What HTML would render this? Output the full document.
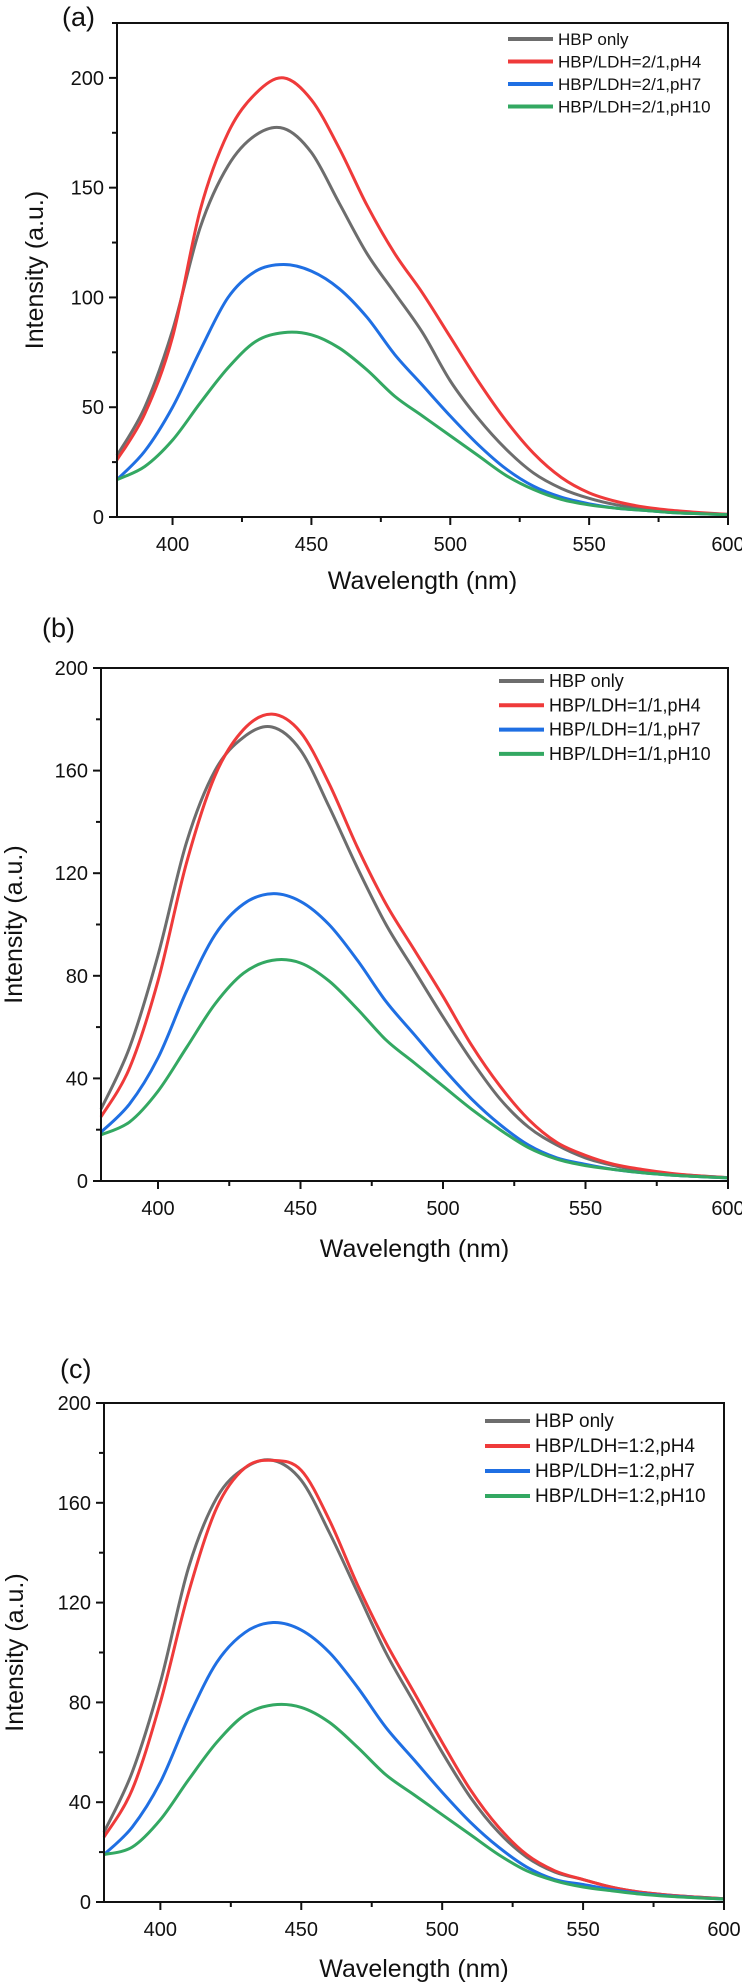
<!DOCTYPE html>
<html><head><meta charset="utf-8"><style>
html,body{margin:0;padding:0;background:#fff}
svg{display:block}
text{font-family:"Liberation Sans",Arial,sans-serif;fill:#111}
</style></head><body>
<svg id="chart" width="742" height="1982" viewBox="0 0 742 1982" xmlns="http://www.w3.org/2000/svg"></svg>
<script>
const wavelengths=[380,390,400,410,420,430,440,450,460,470,480,490,500,510,520,530,540,550,560,570,580,590,600];
const aGray=[28,50,85,132,160,174,177,166,143,120,102,84,62,45,31,20,13,8.5,5.5,3.8,2.6,1.8,1.2];
const aRed=[26,47,82,140,175,193,200,190,168,142,120,102,82,62,44,29,18,11,7,4.5,3,2,1.2];
const aBlue=[17,30,50,76,100,112,115,112,104,91,74,60,46,33,22,14,9,6,4,3,2,1.5,1];
const aGreen=[17,23,35,52,68,80,84,83,77,67,55,46,37,28,19,12.5,8,5.5,4,3,2,1.5,1];
const bGray=[28,52,88,132,160,173,177,168,146,122,100,82,64,47,32,21,14,9,6,4,2.8,2,1.3];
const bRed=[25,44,78,124,158,176,182,175,155,130,108,90,72,53,37,24,15,10,6.5,4.5,3,2,1.3];
const bBlue=[19,30,48,74,96,108,112,109,100,86,70,57,44,32,22,14,9,6.5,4.5,3.2,2.3,1.7,1.2];
const bGreen=[18,23,35,52,69,81,86,85,78,67,55,46,37,28,20,13,8.5,6,4.5,3.2,2.3,1.7,1.2];
const cGray=[28,52,88,134,162,174,177,169,148,124,100,80,60,42,28,18,12,9,6,4,2.8,2,1.3];
const cRed=[26,45,80,124,158,174,177,173,153,127,104,84,64,45,30,19,12.5,9,6,4,2.8,2,1.3];
const cBlue=[19,30,48,74,96,108,112,109,100,86,70,57,44,32,22,14,9,7,5,3.5,2.5,1.8,1.2];
const cGreen=[19,22,33,49,64,75,79,78,72,62,51,43,35,27,19,12.5,8.5,6,4.5,3.2,2.3,1.7,1.2];
const xTicks=[400,450,500,550,600];
const aYTicks=[0,50,100,150,200];
const bcYTicks=[0,40,80,120,160,200];
const aLegend=["HBP only","HBP/LDH=2/1,pH4","HBP/LDH=2/1,pH7","HBP/LDH=2/1,pH10"];
const bLegend=["HBP only","HBP/LDH=1/1,pH4","HBP/LDH=1/1,pH7","HBP/LDH=1/1,pH10"];
const cLegend=["HBP only","HBP/LDH=1:2,pH4","HBP/LDH=1:2,pH7","HBP/LDH=1:2,pH10"];
const colors=["#6d6d6d","#ef3a3a","#1f6fe3","#33a862"];
const NS="http://www.w3.org/2000/svg";
const svg=document.getElementById('chart');
function mk(tag,attrs,parent){const e=document.createElementNS(NS,tag);for(const k in attrs)e.setAttribute(k,attrs[k]);(parent||svg).appendChild(e);return e;}
function panel(p){
  const g=mk('g',{});
  
  
  const sx=v=>p.x0+(v-380)/(600-380)*(p.x1-p.x0);
  const sy=v=>p.y1-(v-0)/(p.ymax)*(p.y1-p.y0);
  p.series.forEach((s,i)=>{
    const pts=wavelengths.map((w,j)=>[sx(w),sy(s[j])]);
    let d='M'+pts[0][0]+','+pts[0][1];
    for(let j=0;j<pts.length-1;j++){
      const p0=pts[Math.max(0,j-1)],p1=pts[j],p2=pts[j+1],p3=pts[Math.min(pts.length-1,j+2)];
      const c1=[p1[0]+(p2[0]-p0[0])/6,p1[1]+(p2[1]-p0[1])/6];
      const c2=[p2[0]-(p3[0]-p1[0])/6,p2[1]-(p3[1]-p1[1])/6];
      d+=' C'+c1[0]+','+c1[1]+' '+c2[0]+','+c2[1]+' '+p2[0]+','+p2[1];
    }
    const path=mk('path',{d:d,fill:'none',stroke:colors[i],'stroke-width':3,'stroke-linejoin':'round'},g);
    
    
  });
  const frame=mk('rect',{x:p.x0,y:p.y0,width:p.x1-p.x0,height:p.y1-p.y0,fill:'none',stroke:'#111','stroke-width':2},g);
  
  
  for(let w=400;w<=600;w+=25){
    const major=(w%50===0);
    mk('line',{x1:sx(w),x2:sx(w),y1:p.y1,y2:p.y1+(major?8:5),stroke:'#111','stroke-width':2},g);
  }
  xTicks.forEach(t=>{
    const tx=mk('text',{x:sx(t),y:p.y1+34,'font-size':20,'text-anchor':'middle'},g);
    tx.textContent=t;
    
    
  });
  const step=p.yticks[1]-p.yticks[0];
  for(let v=0;v<=p.ymax+0.01;v+=step/2){
    const major=Math.abs(v/step-Math.round(v/step))<0.01;
    mk('line',{x1:p.x0,x2:p.x0-(major?8:5),y1:sy(v),y2:sy(v),stroke:'#111','stroke-width':2},g);
  }
  p.yticks.forEach(t=>{
    const tx=mk('text',{x:p.x0-13,y:sy(t)+7,'font-size':20,'text-anchor':'end'},g);
    tx.textContent=t;
    
    
  });
  const xt=mk('text',{x:(p.x0+p.x1)/2,y:p.xtY,'font-size':25,'text-anchor':'middle'},g);
  xt.textContent='Wavelength (nm)';
  
  
  const cy=(p.y0+p.y1)/2;
  const yt=mk('text',{x:p.ytX,y:cy,'font-size':25,'text-anchor':'middle',transform:'rotate(-90 '+p.ytX+' '+cy+')'},g);
  yt.textContent='Intensity (a.u.)';
  
  
  const lb=mk('text',{x:p.lbX,y:p.lbY,'font-size':27},g);
  lb.textContent='('+p.id+')';
  
  
  p.legend.forEach((name,i)=>{
    const y=p.legY+i*p.legStep;
    const ln=mk('line',{x1:p.legX,x2:p.legX+45,y1:y,y2:y,stroke:colors[i],'stroke-width':4},g);
    
    
    const t=mk('text',{x:p.legX+50,y:y+6,'font-size':p.legFont},g);
    t.textContent=name;
    
    
  });
}
panel({id:'a',x0:117,x1:728,y0:23,y1:517,ymax:225,yticks:aYTicks,series:[aGray,aRed,aBlue,aGreen],legend:aLegend,
  xtY:589,ytX:43,lbX:62,lbY:26,legX:508,legY:39,legStep:22.5,legFont:17});
panel({id:'b',x0:101,x1:728,y0:668,y1:1181,ymax:200,yticks:bcYTicks,series:[bGray,bRed,bBlue,bGreen],legend:bLegend,
  xtY:1257,ytX:22,lbX:42,lbY:637,legX:499,legY:681,legStep:24.3,legFont:18});
panel({id:'c',x0:104,x1:724,y0:1403,y1:1902,ymax:200,yticks:bcYTicks,series:[cGray,cRed,cBlue,cGreen],legend:cLegend,
  xtY:1977,ytX:23,lbX:60,lbY:1378,legX:485,legY:1421,legStep:25,legFont:19});
</script>
</body></html>
